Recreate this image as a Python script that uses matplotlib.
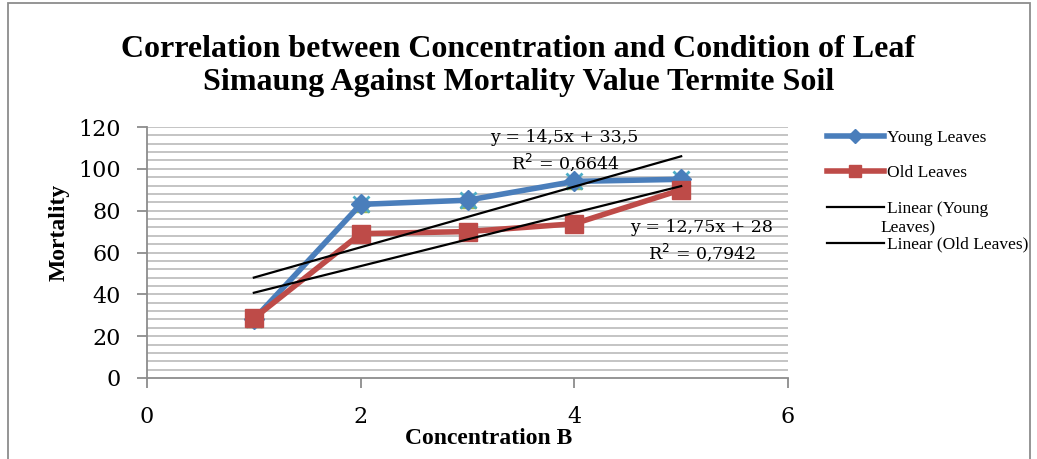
import matplotlib
matplotlib.use("Agg")
import matplotlib.pyplot as plt
from matplotlib.lines import Line2D
from matplotlib.patches import Rectangle
import numpy as np

# --- Data ---
concentration = [1, 2, 3, 4, 5]
young_leaves = [28, 83, 85, 94, 95]
old_leaves = [28.5, 69, 70, 73.75, 90]

# trendline coefficients (slope, intercept) as printed on the chart
young_fit = [14.5, 33.5]
old_fit = [12.75, 28]
young_eq = ["y = 14,5x + 33,5", "R$^2$ = 0,6644"]
old_eq = ["y = 12,75x + 28", "R$^2$ = 0,7942"]

x_ticks = [0, 2, 4, 6]
y_ticks = [0, 20, 40, 60, 80, 100, 120]

blue = "#4A7EBB"
red = "#BE4B48"
grid_c = "#BFBFBF"
axis_c = "#8C8C8C"
serif_b = "Liberation Serif"
tick_font = "DejaVu Serif"

# --- Figure ---
W, H = 1037, 459
fig = plt.figure(figsize=(W / 100, H / 100), dpi=100)
ax = fig.add_axes([147 / W, 1 - 378 / H, (788 - 147) / W, (378 - 127) / H])

ax.set_xlim(0, 6)
ax.set_ylim(0, 120)

# grid lines every 4 units
for g in np.arange(4, 121, 4):
    ax.axhline(g, color=grid_c, lw=1.3, zorder=0)

# hidden duplicate series underneath (visible only at the edges)
ax.plot(concentration, young_leaves, ls="none", marker="^", ms=11,
        color="#9BBB59", zorder=2)
ax.plot(concentration, young_leaves, ls="none", marker="x", ms=11, mew=2,
        color="#4BACC6", zorder=2)

ax.plot(concentration, young_leaves, color=blue, lw=4, marker="D", ms=10,
        zorder=3)
ax.plot(concentration, old_leaves, color=red, lw=4, marker="s", ms=13,
        zorder=4)

xs = np.array([concentration[0], concentration[-1]])
ax.plot(xs, young_fit[0] * xs + young_fit[1], color="black", lw=1.6, zorder=5)
ax.plot(xs, old_fit[0] * xs + old_fit[1], color="black", lw=1.6, zorder=5)

eq_kw = dict(fontsize=12.5, family=tick_font, ha="center", va="center", zorder=6)
ax.text((564 - 147) / 641, (378 - 137) / 251, young_eq[0], transform=ax.transAxes, **eq_kw)
ax.text((565 - 147) / 641, (378 - 162) / 251, young_eq[1], transform=ax.transAxes, **eq_kw)
ax.text((702 - 147) / 641, (378 - 228) / 251, old_eq[0], transform=ax.transAxes, **eq_kw)
ax.text((702 - 147) / 641, (378 - 252) / 251, old_eq[1], transform=ax.transAxes, **eq_kw)

# axes styling
for s in ["top", "right"]:
    ax.spines[s].set_visible(False)
for s in ["left", "bottom"]:
    ax.spines[s].set_color(axis_c)
    ax.spines[s].set_linewidth(1.3)
ax.set_xticks(x_ticks)
ax.set_yticks(y_ticks)
ax.tick_params(axis="both", color=axis_c, width=1.3, length=7, labelsize=16)
ax.tick_params(axis="x", pad=13)
ax.tick_params(axis="y", pad=12)
for lab in ax.get_xticklabels() + ax.get_yticklabels():
    lab.set_family(tick_font)

ax.set_xlabel("Concentration B", fontsize=17, family=serif_b, fontweight="bold",
              va="center")
ax.xaxis.set_label_coords((489 - 147) / 641, (378 - 439) / 251)
ax.set_ylabel("Mortality", fontsize=17, family=serif_b, fontweight="bold",
              va="center")
ax.yaxis.set_label_coords((59 - 147) / 641, (378 - 232) / 251)

fig.text(0.5, 1 - 66 / H,
         "Correlation between Concentration and Condition of Leaf\n"
         "Simaung Against Mortality Value Termite Soil",
         ha="center", va="center", fontsize=23, family=serif_b,
         fontweight="bold", linespacing=1.22)

# legend
handles = [
    Line2D([], [], color=blue, lw=4, marker="D", ms=7),
    Line2D([], [], color=red, lw=4, marker="s", ms=8),
    Line2D([], [], color="black", lw=1.6),
    Line2D([], [], color="black", lw=1.6),
]
labels = ["Young Leaves", "Old Leaves", "Linear (Young", "Linear (Old Leaves)"]
leg = fig.legend(handles, labels, loc="upper left",
                 bbox_to_anchor=(818 / W, 1 - 121 / H), frameon=False,
                 prop={"family": serif_b, "size": 12.5}, handlelength=3.3,
                 handletextpad=0.2, labelspacing=1.12, borderpad=0)
fig.text(880 / W, 1 - 228 / H, "Leaves)", family=serif_b, fontsize=12.5,
         ha="left", va="center")

# chart border
fig.patches.append(Rectangle((8 / W, -0.01), (1030 - 8) / W, 1 - 3 / H + 0.01,
                             transform=fig.transFigure, fill=False,
                             edgecolor=axis_c, lw=1.3))

fig.savefig("out.png", dpi=100)
